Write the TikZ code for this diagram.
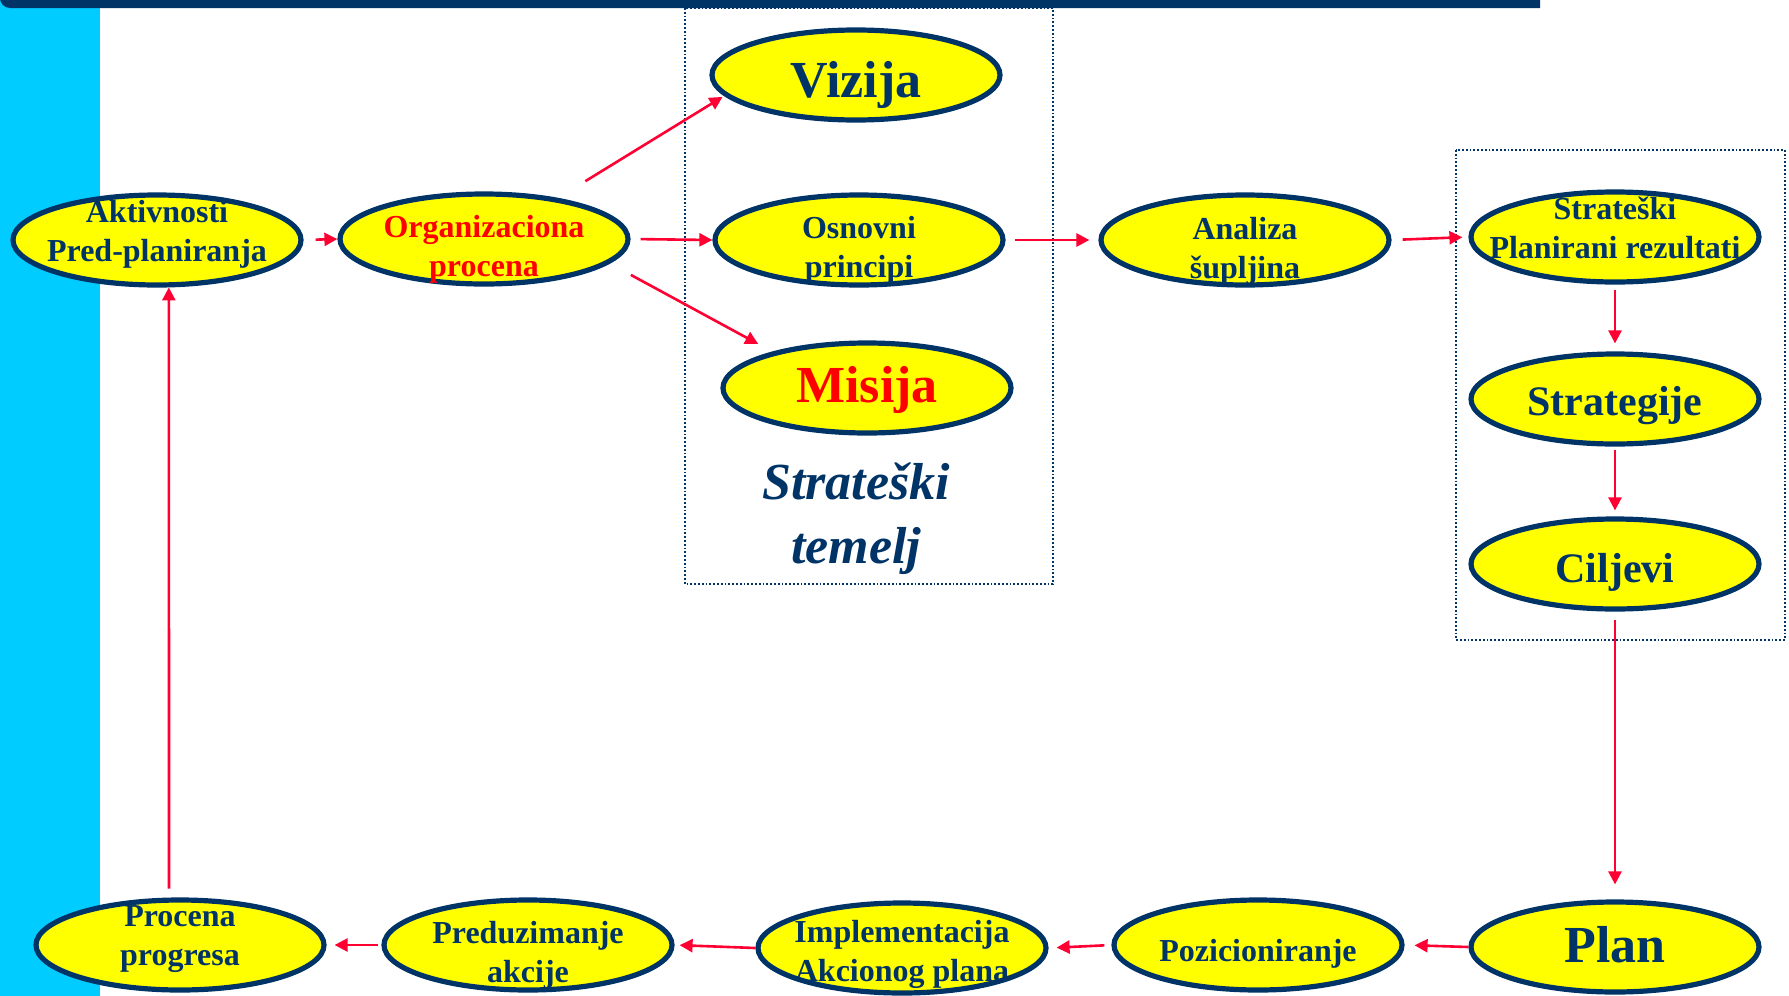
\documentclass[tikz,border=0pt]{standalone}
\usepackage{fontspec}
\setmainfont{Liberation Serif}
\usepackage{tikz}
\usetikzlibrary{shapes.geometric, arrows.meta}
\definecolor{Navy}{RGB}{0,51,102}
\definecolor{Zuta}{RGB}{255,255,0}
\definecolor{Crvena}{RGB}{255,0,51}
\definecolor{Cijan}{RGB}{0,204,255}
\tikzset{elipsa/.style={ellipse,draw=Navy,line width=2.6pt,fill=Zuta,minimum width=144pt,minimum height=45pt,
   inner xsep=-25pt,inner ysep=-10pt,align=center,text=Navy,font=\bfseries\fontsize{16}{19.5}\selectfont},
 veliki/.style={font=\bfseries\fontsize{26}{30}\selectfont},
 srednji/.style={font=\bfseries\fontsize{21}{25}\selectfont},
 visina/.style={text height=#1,text depth=0pt},
 strel/.style={draw=Crvena,line width=1.3pt,-{Triangle[length=6.5pt,width=6.5pt]}},
 okvir/.style={draw=Navy,densely dotted,line width=0.9pt}}

\begin{document}
\begin{tikzpicture}[x=0.5pt,y=-0.5pt]
 \useasboundingbox (0,0) rectangle (1789,996);
 \fill[Cijan](0,0) rectangle (100,996);
 \fill[Navy](1540,0)--(1540,8)[rounded corners=5pt]--(0,8)[sharp corners]--(0,0)--cycle;
 \draw[okvir](685,8) rectangle (1053,584);\draw[okvir](1456,150) rectangle (1785,640);

 \node[elipsa,visina=21.4pt] (akt) at (157,240) {Aktivnosti\\Pred-planiranja};
 \node[elipsa,visina=37.3pt,text=red] (org) at (484,239) {Organizaciona\\procena};
 \node[elipsa,veliki,visina=22.8pt] (viz) at (856,75) {Vizija};
 \node[elipsa,visina=37.3pt] (osn) at (859,240) {Osnovni\\principi};
 \node[elipsa,veliki,visina=14.8pt,text=red] (mis) at (867,388) {Misija};
 \node[text=Navy,align=center,font=\bfseries\itshape\fontsize{26}{32}\selectfont] (temelj) at (856,519) {Strateški\\temelj};
 \node[elipsa,visina=38.5pt] (ana) at (1245,240) {Analiza\\šupljina};
 \node[elipsa,visina=21.4pt] (spr) at (1615,237) {Strateški\\Planirani rezultati};
 \node[elipsa,srednji,visina=16.2pt] (str) at (1615,399) {Strategije};
 \node[elipsa,srednji,visina=18.6pt] (cil) at (1615,564) {Ciljevi};
 \node[elipsa,veliki,visina=15.8pt] (plan) at (1615,947) {Plan};
 \node[elipsa,visina=16.4pt] (poz) at (1258,945) {Pozicioniranje};
 \node[elipsa,visina=33.9pt] (imp) at (902,948) {Implementacija\\Akcionog plana};
 \node[elipsa,visina=37.9pt] (pre) at (528,945) {Preduzimanje\\akcije};
 \node[elipsa,visina=20.9pt] (pro) at (180,945) {Procena\\progresa};

 \draw[strel,shorten <=6pt](akt.east)--(org.west);
 \draw[strel,shorten <=16pt,shorten >=1pt](org.29)--(viz.189);
 \draw[strel,shorten <=5pt](org.east)--(osn.west);
 \draw[strel,shorten <=12pt,shorten >=8pt](org.349)--(mis.159);
 \draw[strel,shorten <=4.5pt,shorten >=4.5pt](osn.east)--(ana.west);
 \draw[strel,shorten <=5.5pt,shorten >=3pt](ana.east)--(spr.west);
 \draw[strel,shorten <=2.5pt,shorten >=4pt](spr)--(str);
 \draw[strel,shorten <=1.5pt,shorten >=3pt](str)--(cil);
 \draw[strel,shorten <=4pt,shorten >=7.5pt](cil)--(plan);
 \draw[strel,shorten >=5pt](plan.west)--(poz.east);
 \draw[strel,shorten <=3.5pt,shorten >=4pt](poz.west)--(imp.east);
 \draw[strel,shorten >=2.5pt](imp.west)--(pre.east);
 \draw[strel,shorten <=1.5pt,shorten >=4pt](pre.west)--(pro.east);
 \draw[strel,shorten <=4.5pt](pro.103)--(akt.284);
\end{tikzpicture}
\end{document}
